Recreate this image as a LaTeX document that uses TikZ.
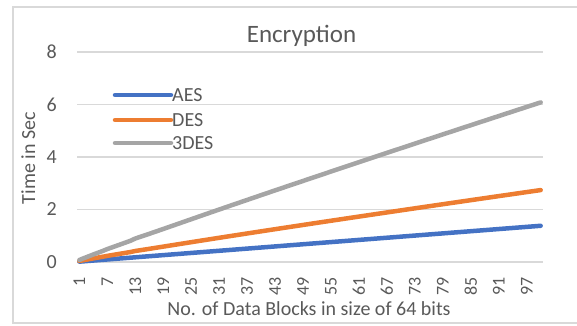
\documentclass[tikz,border=0pt]{standalone}
\usepackage{fontspec}
\setmainfont{Carlito}
\usepackage{tikz}
\definecolor{aescol}{HTML}{4472C4}
\definecolor{descol}{HTML}{ED7D31}
\definecolor{tdescol}{HTML}{A5A5A5}
\definecolor{gridcol}{HTML}{D9D9D9}
\definecolor{txtcol}{HTML}{595959}

\begin{document}
\begin{tikzpicture}[x=1pt,y=-1pt,
  series/.style={line width=4.5pt,line cap=round,line join=round},
  gridline/.style={gridcol,line width=1.3pt},
  lbl/.style={text=txtcol,inner sep=0pt}]
\useasboundingbox (0,0) rectangle (577,325);
\draw[gridcol,line width=2pt] (577,7) -- (13,7) -- (13,323) -- (577,323);
\node[lbl,anchor=base,font=\fontsize{25}{30}\selectfont] (title) at (301.5,42) {Encryption};
\node[lbl,anchor=base,font=\fontsize{20}{24}\selectfont] (xtitle) at (309,315) {No. of Data Blocks in size of 64 bits};
\node[lbl,anchor=base,rotate=90,font=\fontsize{20}{24}\selectfont] (ytitle) at (35,158) {Time in Sec};
% plot area
\begin{scope}[shift={(77,262)},x=4.66pt,y=26.25pt]
  \foreach \v in {0,2,...,8} {
    \draw[gridline] (0,\v) -- (100,\v);
    \node[lbl,anchor=east,font=\fontsize{20}{24}\selectfont] (ytick\v) at ([xshift=-20pt]0,\v) {\v};
  }
  \foreach \c in {1,7,...,97}
    \node[lbl,anchor=east,rotate=90,font=\fontsize{18}{22}\selectfont] (xtick\c) at ([yshift=-15pt]\c-0.5,0) {\c};
  \draw[series,aescol] plot[domain=1:100,samples=100] ({\x-0.5},{1.38*(\x/100)});
  \draw[series,descol] plot[domain=1:100,samples=100] ({\x-0.5},{2.74*(\x/100)^0.93});
  \draw[series,tdescol] plot[domain=1:100,samples=100] ({\x-0.5},{6.08*(\x/100)^0.95});
\end{scope}
% legend
\foreach \name/\col/\y in {AES/aescol/95,DES/descol/120,3DES/tdescol/143} {
  \draw[series,\col] (115,\y) -- (171,\y) coordinate (end\name);
  \node[lbl,anchor=west,xshift=1pt,font=\fontsize{20}{24}\selectfont] (leg\name) at (end\name) {\name};
}
\end{tikzpicture}
\end{document}
